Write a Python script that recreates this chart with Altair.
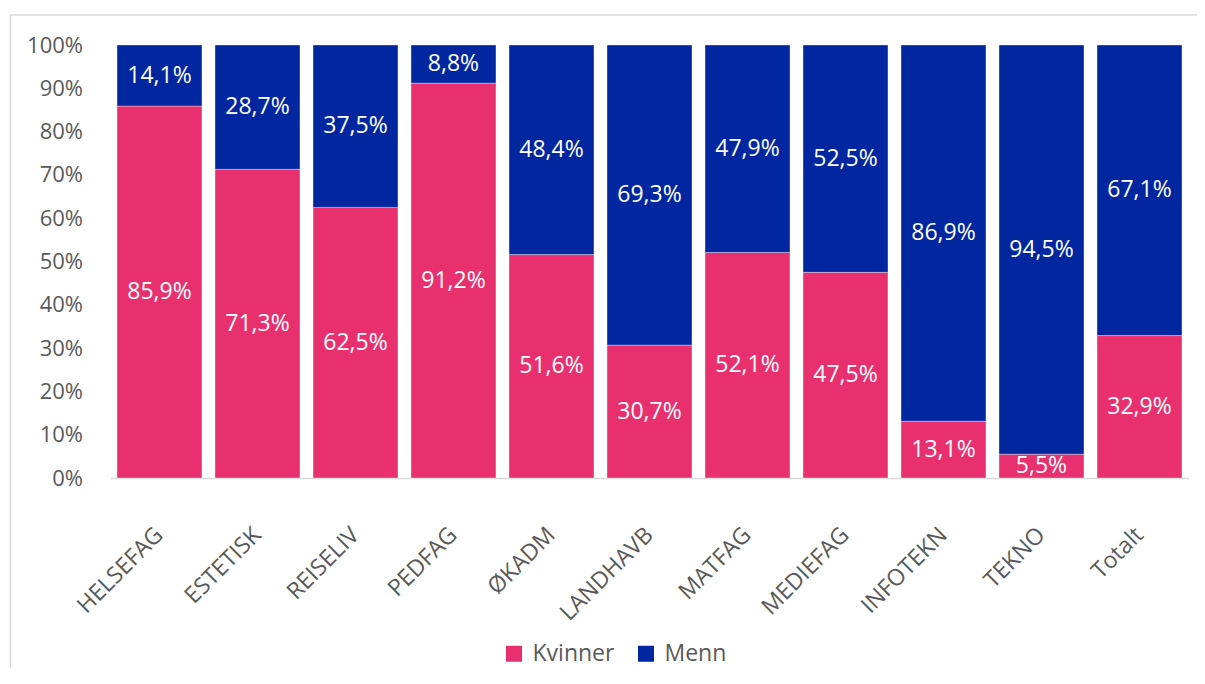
import altair as alt
import pandas as pd

categories = ["HELSEFAG", "ESTETISK", "REISELIV", "PEDFAG", "ØKADM", "LANDHAVB",
              "MATFAG", "MEDIEFAG", "INFOTEKN", "TEKNO", "Totalt"]
kvinner = [85.9, 71.3, 62.5, 91.2, 51.6, 30.7, 52.1, 47.5, 13.1, 5.5, 32.9]
menn = [14.1, 28.7, 37.5, 8.8, 48.4, 69.3, 47.9, 52.5, 86.9, 94.5, 67.1]
series = ["Kvinner", "Menn"]
colors = ["#E8306F", "#0026A0"]
y_ticks = list(range(0, 101, 10))

rows = []
for i, c in enumerate(categories):
    rows.append({"kat": c, "gruppe": series[0], "verdi": kvinner[i], "rekkef": 0})
    rows.append({"kat": c, "gruppe": series[1], "verdi": menn[i], "rekkef": 1})
df = pd.DataFrame(rows)
df["etikett"] = df["verdi"].map(lambda v: f"{v:.1f}".replace(".", ",") + "%")

FONT = "Open Sans"
GREY = "#595959"
W, H = 1078, 433

xscale = alt.Scale(paddingInner=0.133, paddingOuter=0.0665)
x = alt.X("kat:N", sort=categories, title=None, scale=xscale,
          axis=alt.Axis(labelAngle=-45, labelAlign="right", labelBaseline="middle",
                        labelPadding=53, ticks=False, domainColor="#D9D9D9",
                        domainWidth=1.5, labelFont=FONT, labelFontSize=23,
                        labelColor=GREY))
yscale = alt.Scale(domain=[0, 100], nice=False)

bars = alt.Chart(df).mark_bar(stroke="white", strokeWidth=1, strokeOpacity=0.35).encode(
    x=x,
    y=alt.Y("verdi:Q", stack="zero", scale=yscale, title=None,
            axis=alt.Axis(values=y_ticks, labelExpr="datum.value + '%'", grid=False,
                          ticks=False, domain=False, labelPadding=28, labelFont=FONT,
                          labelFontSize=22, labelColor=GREY)),
    color=alt.Color("gruppe:N", scale=alt.Scale(domain=series, range=colors),
                    legend=alt.Legend(title=None, orient="none", direction="horizontal",
                                      legendX=392, legendY=597, symbolType="square",
                                      symbolSize=256, symbolStrokeWidth=0,
                                      labelFont=FONT, labelFontSize=23, labelColor=GREY,
                                      columnPadding=20, labelOffset=7)),
    order=alt.Order("rekkef:Q"),
)

labels = alt.Chart(df).transform_stack(
    stack="verdi", groupby=["kat"], as_=["y0", "y1"],
    sort=[alt.SortField("rekkef", order="ascending")]
).transform_calculate(
    ymid="(datum.y0 + datum.y1) / 2"
).mark_text(color="white", font=FONT, fontSize=23, baseline="middle").encode(
    x=alt.X("kat:N", sort=categories, scale=xscale),
    y=alt.Y("ymid:Q", scale=yscale),
    text="etikett:N",
)

frame_df = pd.DataFrame({"a": [0]})
frame_top = alt.Chart(frame_df).mark_rule(color="#D9D9D9", strokeWidth=1.5).encode(
    x=alt.value(-100), x2=alt.value(W + 40), y=alt.value(-30))
frame_left = alt.Chart(frame_df).mark_rule(color="#D9D9D9", strokeWidth=1.5).encode(
    x=alt.value(-100), y=alt.value(-30), y2=alt.value(H + 250))

chart = alt.layer(frame_top, frame_left, bars, labels).properties(
    width=W, height=H,
    autosize=alt.AutoSizeParams(type="none"),
    padding={"left": 102.5, "top": 37, "right": 8, "bottom": 190},
).configure_view(stroke=None)

chart.save("out.html", embed_options={"renderer": "svg", "actions": False})
